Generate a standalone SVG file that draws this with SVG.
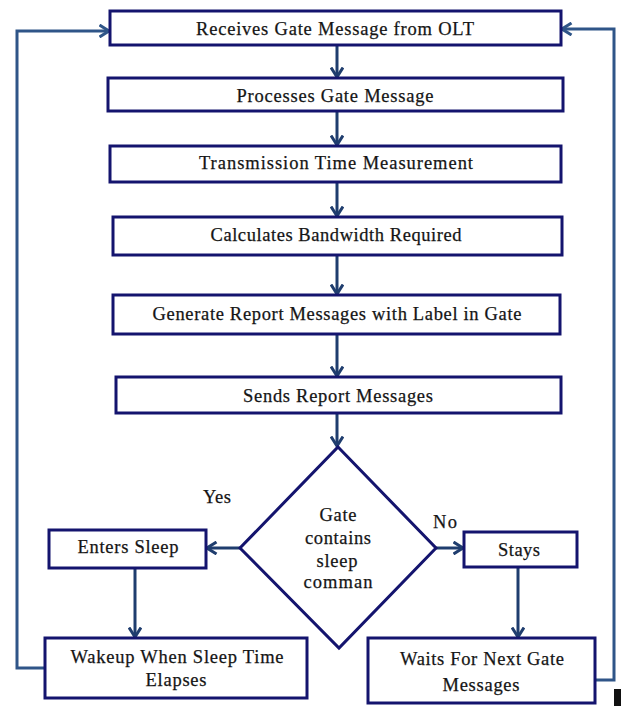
<svg xmlns="http://www.w3.org/2000/svg" width="624" height="706" viewBox="0 0 624 706">
<style>
.box{fill:#fff;stroke:#14146e;stroke-width:3}
.t{font-family:"Liberation Serif","Times New Roman",serif;font-size:18.5px;fill:#151515;stroke:#151515;stroke-width:0.25;text-anchor:middle}
.c{fill:none;stroke:#1f3d6e;stroke-width:3}
.loop{fill:none;stroke:#2f5588;stroke-width:3}
</style>
<defs>
<marker id="ah" viewBox="0 0 12 14" refX="10.5" refY="7" markerWidth="12" markerHeight="14" markerUnits="userSpaceOnUse" orient="auto">
<path d="M1,1 L10.5,7 L1,13" fill="none" stroke="#1f3d6e" stroke-width="3"/>
</marker>
<marker id="ahl" viewBox="0 0 12 14" refX="10.5" refY="7" markerWidth="12" markerHeight="14" markerUnits="userSpaceOnUse" orient="auto">
<path d="M1,1 L10.5,7 L1,13" fill="none" stroke="#2f5588" stroke-width="3"/>
</marker>
</defs>
<rect width="624" height="706" fill="#fff"/>
<g id="connectors">
<line class="c" x1="337" y1="45" x2="337" y2="77" marker-end="url(#ah)"/>
<line class="c" x1="337" y1="111" x2="337" y2="145" marker-end="url(#ah)"/>
<line class="c" x1="337" y1="182" x2="337" y2="216" marker-end="url(#ah)"/>
<line class="c" x1="337" y1="255" x2="337" y2="294" marker-end="url(#ah)"/>
<line class="c" x1="337" y1="334" x2="337" y2="376" marker-end="url(#ah)"/>
<line class="c" x1="337" y1="413" x2="337" y2="446" marker-end="url(#ah)"/>
<line class="c" x1="240" y1="548" x2="207" y2="548" marker-end="url(#ah)"/>
<line class="c" x1="436" y1="548" x2="463" y2="548" marker-end="url(#ah)"/>
<line class="c" x1="135" y1="568" x2="135" y2="637" marker-end="url(#ah)"/>
<line class="c" x1="518" y1="567" x2="518" y2="637" marker-end="url(#ah)"/>
<polyline class="loop" points="45,668 17,668 17,31 109,31" marker-end="url(#ahl)"/>
<polyline class="loop" points="595,680 614,680 614,29 562,29" marker-end="url(#ahl)"/>
</g>
<g id="n1"><rect class="box" x="110" y="11" width="451" height="34"/><text class="t" x="335" y="35" textLength="278" lengthAdjust="spacing">Receives Gate Message from OLT</text></g>
<g id="n2"><rect class="box" x="108" y="78" width="455" height="33"/><text class="t" x="335" y="102" textLength="197" lengthAdjust="spacing">Processes Gate Message</text></g>
<g id="n3"><rect class="box" x="110" y="146" width="451" height="36"/><text class="t" x="336" y="169" textLength="274" lengthAdjust="spacing">Transmission Time Measurement</text></g>
<g id="n4"><rect class="box" x="113" y="217" width="449" height="38"/><text class="t" x="336" y="241" textLength="251" lengthAdjust="spacing">Calculates Bandwidth Required</text></g>
<g id="n5"><rect class="box" x="113" y="295" width="447" height="39"/><text class="t" x="337" y="320" textLength="369" lengthAdjust="spacing">Generate Report Messages with Label in Gate</text></g>
<g id="n6"><rect class="box" x="116" y="377" width="445" height="36"/><text class="t" x="338" y="402" textLength="190" lengthAdjust="spacing">Sends Report Messages</text></g>
<g id="decision"><polygon class="box" points="338,447 436,548 339,648 240,548"/>
<text class="t" x="338" y="521" textLength="37" lengthAdjust="spacing">Gate</text>
<text class="t" x="338" y="544" textLength="66" lengthAdjust="spacing">contains</text>
<text class="t" x="337" y="567" textLength="41" lengthAdjust="spacing">sleep</text>
<text class="t" x="338" y="588" textLength="69" lengthAdjust="spacing">comman</text></g>
<g id="lbl-yes"><text class="t" x="217" y="503" textLength="28" lengthAdjust="spacing">Yes</text></g>
<g id="lbl-no"><text class="t" x="445" y="528" textLength="24" lengthAdjust="spacing">No</text></g>
<g id="n-sleep"><rect class="box" x="49" y="530" width="157" height="38"/><text class="t" x="128" y="553" textLength="101" lengthAdjust="spacing">Enters Sleep</text></g>
<g id="n-stays"><rect class="box" x="464" y="532" width="113" height="35"/><text class="t" x="519" y="556" textLength="42" lengthAdjust="spacing">Stays</text></g>
<g id="n-wake"><rect class="box" x="45" y="638" width="262" height="60"/><text class="t" x="177" y="663" textLength="213" lengthAdjust="spacing">Wakeup When Sleep Time</text><text class="t" x="176" y="686" textLength="61" lengthAdjust="spacing">Elapses</text></g>
<g id="n-wait"><rect class="box" x="368" y="638" width="227" height="65"/><text class="t" x="482" y="665" textLength="164" lengthAdjust="spacing">Waits For Next Gate</text><text class="t" x="481" y="691" textLength="77" lengthAdjust="spacing">Messages</text></g>
<rect x="614" y="689" width="7" height="17" fill="#111"/>
</svg>
